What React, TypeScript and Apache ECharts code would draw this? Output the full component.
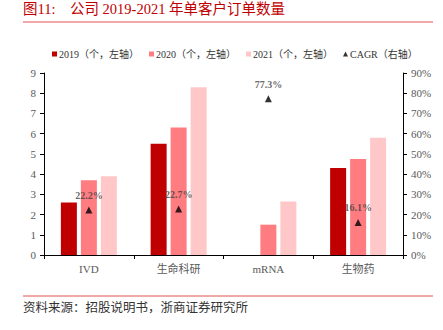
import React, { useEffect, useRef } from "react";
import * as echarts from "echarts";

const categories = ["IVD", "生命科研", "mRNA", "生物药"];
const orders2019 = [2.6, 5.5, 0, 4.3];
const orders2020 = [3.7, 6.3, 1.5, 4.75];
const orders2021 = [3.9, 8.3, 2.65, 5.8];
const cagr = [22.2, 22.7, 77.3, 16.1];
const leftTicks = [0, 9, 1];
const rightTicks = [0, 90, 10];

const serif = "'Liberation Serif', 'Times New Roman', 'Noto Sans CJK SC', serif";
const labelColor = "#595959";

export default function App() {
  const ref = useRef<HTMLDivElement>(null);
  useEffect(() => {
    if (!ref.current) return;
    const chart = echarts.init(ref.current, null, { renderer: "svg" });
    const axisLine = { show: true, lineStyle: { color: "#000", width: 1 } };
    chart.setOption({
      animation: false,
      backgroundColor: "#fff",
      textStyle: { fontFamily: serif },
      graphic: [
        {
          type: "text",
          left: 23,
          top: 2,
          style: {
            text: "图11:    公司 2019-2021 年单客户订单数量",
            font: `14.5px ${serif}`,
            fill: "#c00000",
          },
        },
        {
          type: "line",
          shape: { x1: 23, y1: 22, x2: 433, y2: 22 },
          style: { stroke: "#e05050", lineWidth: 1 },
        },
        {
          type: "line",
          shape: { x1: 23, y1: 296, x2: 433, y2: 296 },
          style: { stroke: "#e05050", lineWidth: 1 },
        },
        {
          type: "text",
          left: 23,
          top: 302,
          style: {
            text: "资料来源：招股说明书，浙商证券研究所",
            font: `12.5px ${serif}`,
            fill: "#333",
          },
        },
      ],
      legend: {
        top: 44,
        left: 47,
        width: 420,
        itemWidth: 5,
        itemHeight: 5,
        itemGap: 10,
        textStyle: { fontSize: 10, color: "#333", fontFamily: serif, padding: [0, 0, 0, -3] },
        data: [
          { name: "2019（个，左轴）", icon: "rect" },
          { name: "2020（个，左轴）", icon: "rect" },
          { name: "2021（个，左轴）", icon: "rect" },
          { name: "CAGR（右轴）", icon: "triangle" },
        ],
      },
      grid: { left: 44, right: 40, top: 73, bottom: 75 },
      xAxis: {
        type: "category",
        data: categories,
        axisLine,
        axisTick: { show: true, alignWithLabel: false, length: 4, lineStyle: { color: "#000" } },
        axisLabel: { color: labelColor, fontSize: 11, margin: 8, fontFamily: serif },
      },
      yAxis: [
        {
          type: "value",
          min: leftTicks[0],
          max: leftTicks[1],
          interval: leftTicks[2],
          axisLine,
          axisTick: { show: true, length: 4, lineStyle: { color: "#000" } },
          splitLine: { show: false },
          axisLabel: { color: labelColor, fontSize: 11, margin: 8, fontFamily: serif },
        },
        {
          type: "value",
          min: rightTicks[0],
          max: rightTicks[1],
          interval: rightTicks[2],
          axisLine,
          axisTick: { show: true, length: 4, lineStyle: { color: "#000" } },
          splitLine: { show: false },
          axisLabel: { color: labelColor, fontSize: 11, margin: 8, fontFamily: serif, formatter: "{value}%" },
        },
      ],
      series: [
        {
          name: "2019（个，左轴）",
          type: "bar",
          data: orders2019,
          barWidth: 16,
          barGap: "25%",
          itemStyle: { color: "#c00000" },
        },
        {
          name: "2020（个，左轴）",
          type: "bar",
          data: orders2020,
          barWidth: 16,
          barGap: "25%",
          itemStyle: { color: "#ff7c80" },
        },
        {
          name: "2021（个，左轴）",
          type: "bar",
          data: orders2021,
          barWidth: 16,
          barGap: "25%",
          itemStyle: { color: "#ffc7c7" },
        },
        {
          name: "CAGR（右轴）",
          type: "scatter",
          yAxisIndex: 1,
          data: cagr,
          symbol: "triangle",
          symbolSize: 7,
          itemStyle: { color: "#000" },
          label: {
            show: true,
            position: "top",
            distance: 6,
            formatter: (p: any) => `${p.value}%`,
            color: "#404040",
            fontSize: 10,
            fontWeight: "bold",
            fontFamily: serif,
          },
        },
      ],
    });
    return () => chart.dispose();
  }, []);
  return (
    <div
      ref={ref}
      style={{ position: "fixed", left: 0, top: 0, width: 443, height: 330 }}
    />
  );
}
